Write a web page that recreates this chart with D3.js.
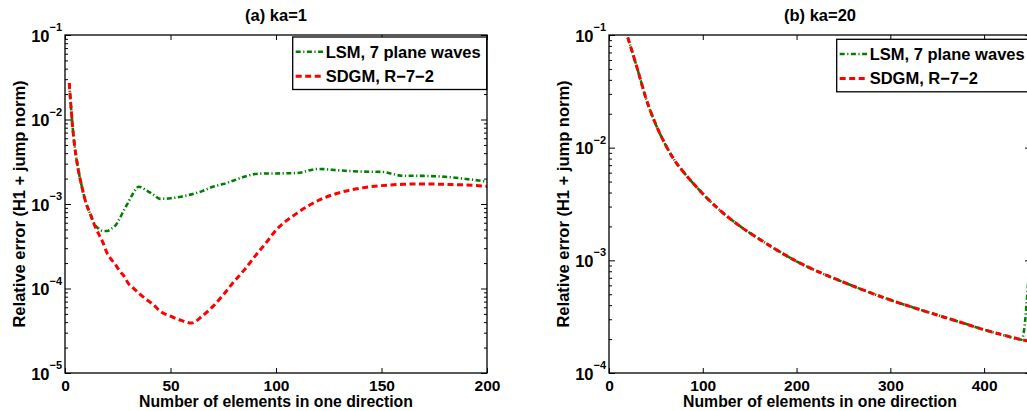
<!DOCTYPE html>
<html><head><meta charset="utf-8">
<script src="https://cdn.jsdelivr.net/npm/d3@7"></script>
<style>
body{margin:0;background:#fff;overflow:hidden;}
svg{display:block;}
text{font-family:"Liberation Sans",Arial,Helvetica,sans-serif;font-weight:bold;fill:#000;}
</style>
</head><body>
<svg id="chart" width="1027" height="411"></svg>
<script>
// ---------- data ----------
const elemsA = [2,4,6,8,10,12,14,16,18,20,22,24,26,28,30,32,35,38,40,42,45,50,55,60,65,70,75,80,85,90,95,100,110,120,130,140,150,160,170,180,190,200];
const lsmA  = [0.027,0.0065,0.0028,0.0016,0.00102,0.00076,0.00058,0.00051,0.00048,0.00048,0.00051,0.00056,0.00068,0.00085,0.00105,0.0013,0.0016,0.00148,0.00138,0.00128,0.00115,0.00117,0.00122,0.0013,0.00142,0.0016,0.00172,0.0019,0.0021,0.00226,0.0023,0.0023,0.00233,0.0026,0.0025,0.00242,0.0024,0.00216,0.00215,0.0021,0.00198,0.00184];
const sdgmA = [0.027,0.0065,0.0028,0.0016,0.00102,0.00076,0.00056,0.00044,0.00035,0.00026,0.00022,0.00019,0.00016,0.00014,0.000115,0.000103,0.000088,0.000076,0.00007,0.000064,0.000054,0.000047,0.000042,0.000039,0.000047,0.000061,0.000084,0.00012,0.000166,0.00024,0.00034,0.00049,0.00078,0.0011,0.00136,0.00154,0.00165,0.00171,0.00173,0.00171,0.00168,0.00162];

const elemsB = [20,30,40,50,60,70,80,90,100,120,140,160,180,200,225,250,275,300,325,350,375,400,420,440,450];
const lsmB  = [0.095,0.051,0.0265,0.016,0.0107,0.0077,0.006,0.0048,0.0039,0.0027,0.002,0.00155,0.00122,0.00098,0.00078,0.00064,0.00053,0.000445,0.00038,0.000327,0.000282,0.000242,0.000218,0.000198,0.0016];
const sdgmB = [0.095,0.051,0.0265,0.016,0.0107,0.0077,0.006,0.0048,0.0039,0.0027,0.002,0.00155,0.00122,0.00098,0.00078,0.00064,0.00053,0.000445,0.00038,0.000327,0.000282,0.000242,0.000218,0.000198,0.00019];

const titles = ["(a) ka=1", "(b) ka=20"];
const seriesNames = ["LSM, 7 plane waves", "SDGM, R\u22127\u22122"];
const xTicksA = [0,50,100,150,200];
const xTicksB = [0,100,200,300,400];
const yExpA = [-1,-2,-3,-4,-5];
const yExpB = [-1,-2,-3,-4];
const xLabel = "Number of elements in one direction";
const yLabel = "Relative error (H1 + jump norm)";

// ---------- drawing ----------
const svg = d3.select("#chart");
const green = "#008000", red = "#ff0000";

function panel(cfg, idx){
  const x = d3.scaleLinear().domain(cfg.xDomain).range([cfg.left, cfg.right]);
  const y = d3.scaleLog().domain(cfg.yDomain).range([cfg.bottom, cfg.top]);
  const g = svg.append("g");
  const clipId = "clip" + idx;
  g.append("clipPath").attr("id", clipId).append("rect")
    .attr("x", cfg.left).attr("y", cfg.top)
    .attr("width", cfg.right - cfg.left).attr("height", cfg.bottom - cfg.top);

  const majors = cfg.yExps.map(e => Math.pow(10, e));
  const minors = [];
  const lo = d3.min(cfg.yExps), hi = d3.max(cfg.yExps);
  for (let e = lo; e < hi; e++) for (let m = 2; m <= 9; m++) minors.push(m * Math.pow(10, e));

  const axStyle = sel => { sel.select(".domain").remove(); sel.selectAll("line").attr("stroke","#000").attr("stroke-width",1); };

  g.append("g").attr("transform",`translate(0,${cfg.bottom})`)
    .call(d3.axisBottom(x).tickValues(cfg.xTicks).tickSizeInner(-5).tickSizeOuter(0).tickPadding(7).tickFormat(d3.format("d")))
    .call(axStyle)
    .call(s => s.selectAll("text").attr("font-size","15.5px").attr("font-family",null).attr("fill","#000"));
  g.append("g").attr("transform",`translate(0,${cfg.top})`)
    .call(d3.axisTop(x).tickValues(cfg.xTicks).tickSizeInner(-5).tickSizeOuter(0).tickFormat(""))
    .call(axStyle);
  [[d3.axisLeft, cfg.left],[d3.axisRight, cfg.right]].forEach(([ax, px]) => {
    g.append("g").attr("transform",`translate(${px},0)`)
      .call(ax(y).tickValues(majors).tickSizeInner(-6).tickSizeOuter(0).tickFormat(""))
      .call(axStyle);
    g.append("g").attr("transform",`translate(${px},0)`)
      .call(ax(y).tickValues(minors).tickSizeInner(-3).tickSizeOuter(0).tickFormat(""))
      .call(axStyle);
  });

  cfg.yExps.forEach(e => {
    const py = y(Math.pow(10, e));
    g.append("text").attr("x", cfg.left - 15.5).attr("y", py + 6.5)
      .attr("text-anchor","end").attr("font-size","16.5px").text("10");
    g.append("text").attr("x", cfg.left - 15.5).attr("y", py - 4)
      .attr("text-anchor","start").attr("font-size","11px").text("\u2212" + Math.abs(e));
  });

  const line = d3.line().x(d => x(d[0])).y(d => y(d[1])).curve(d3.curveMonotoneX);
  const lines = g.append("g").attr("clip-path", `url(#${clipId})`);
  lines.append("path").datum(cfg.xs.map((v,i)=>[v, cfg.lsm[i]]))
    .attr("d", line).attr("fill","none").attr("stroke", green).attr("stroke-width", 2.6)
    .attr("stroke-dasharray","5,2.5,1.2,2.5");
  lines.append("path").datum(cfg.xs.map((v,i)=>[v, cfg.sdgm[i]]))
    .attr("d", line).attr("fill","none").attr("stroke", red).attr("stroke-width", 3)
    .attr("stroke-dasharray","6,3.5");

  g.append("rect").attr("x", cfg.left).attr("y", cfg.top)
    .attr("width", cfg.right - cfg.left).attr("height", cfg.bottom - cfg.top)
    .attr("fill","none").attr("stroke","#000").attr("stroke-width",1.3);

  const cx = (cfg.left + cfg.right) / 2;
  g.append("text").attr("x", cx).attr("y", 21).attr("text-anchor","middle").attr("font-size","16.5px").text(cfg.title);
  g.append("text").attr("x", cx).attr("y", 407.3).attr("text-anchor","middle").attr("font-size","15.8px").text(xLabel);
  g.append("text").attr("transform", `translate(${cfg.left - 40},${(cfg.top + cfg.bottom)/2}) rotate(-90)`)
    .attr("text-anchor","middle").attr("font-size","16.5px").text(yLabel);

  const lg = g.append("g");
  lg.append("rect").attr("x", cfg.legX).attr("y", cfg.legY).attr("width", 194).attr("height", 52.5)
    .attr("fill","#fff").attr("stroke","#000").attr("stroke-width",1.3);
  const styles = [[green, 2.6, "5,2.5,1.2,2.5"], [red, 3, "6,3.5"]];
  seriesNames.forEach((name, i) => {
    const ly = cfg.legY + 14.7 + i * 24.5;
    lg.append("line").attr("x1", cfg.legX + 3).attr("x2", cfg.legX + 31)
      .attr("y1", ly).attr("y2", ly)
      .attr("stroke", styles[i][0]).attr("stroke-width", styles[i][1]).attr("stroke-dasharray", styles[i][2]);
    lg.append("text").attr("x", cfg.legX + 33).attr("y", ly + 5.8).attr("font-size","16.5px").text(name);
  });
}

panel({left:65, right:487, top:35, bottom:373, xDomain:[0,200], yDomain:[1e-5,1e-1],
       xTicks:xTicksA, yExps:yExpA, xs:elemsA, lsm:lsmA, sdgm:sdgmA, title:titles[0],
       legX:292.7, legY:37}, 0);
panel({left:609, right:1031, top:35, bottom:373, xDomain:[0,450], yDomain:[1e-4,1e-1],
       xTicks:xTicksB, yExps:yExpB, xs:elemsB, lsm:lsmB, sdgm:sdgmB, title:titles[1],
       legX:836.7, legY:39.3}, 1);
</script>
</body></html>
